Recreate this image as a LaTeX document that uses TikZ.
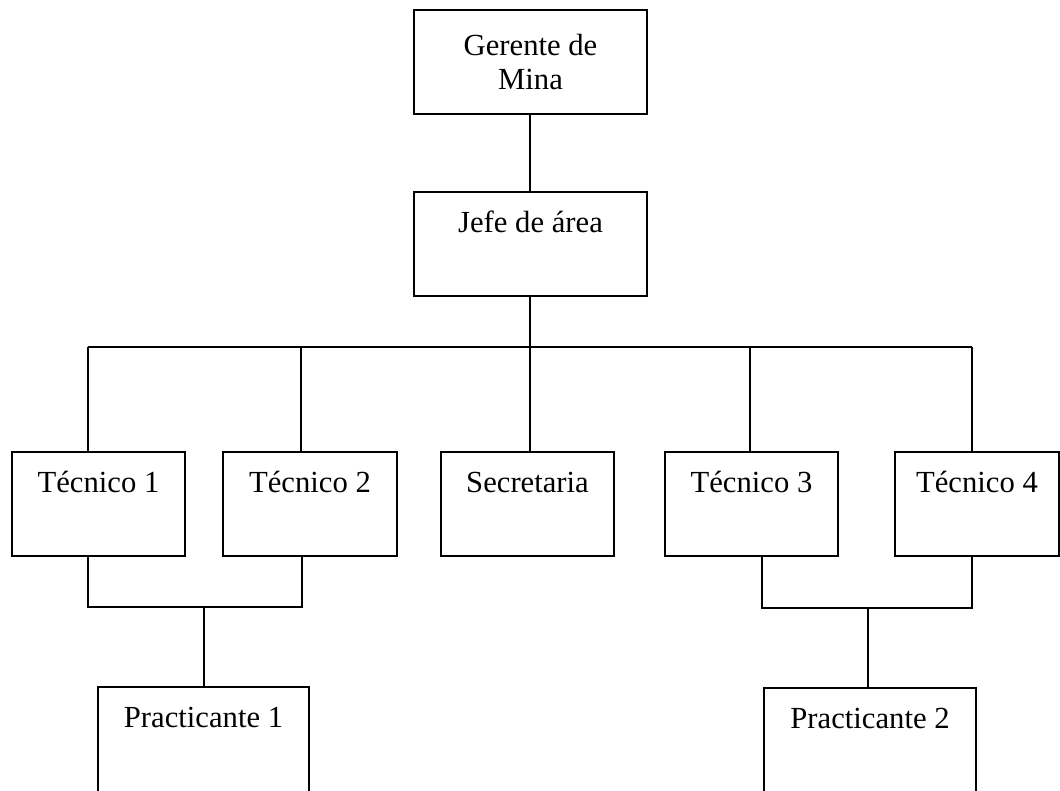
\documentclass[tikz,border=0pt]{standalone}
\usepackage{fontspec}
\setmainfont{Liberation Serif}
\begin{document}
\begin{tikzpicture}[x=0.75pt,y=-0.75pt,
  line width=1.3pt,
  orgbox/.style={draw=black, line width=1.3pt, rectangle, inner xsep=0pt, inner ysep=0pt,
     font=\fontsize{23}{26}\selectfont, text height=30pt, text depth=48pt},
  topbox/.style={draw=black, line width=1.3pt, rectangle, inner sep=0pt, align=center,
     font=\fontsize{23}{26}\selectfont, minimum height=78pt},
  conn/.style={draw=black, line width=1.3pt}]
\useasboundingbox (0,0) rectangle (1060,790);
\clip (0,0) rectangle (1060,790);
\fill[white] (0,0) rectangle (1060,790);

\node[topbox, minimum width=174.75pt] (g) at (530.5,62) {Gerente de\\Mina};
\node[orgbox, minimum width=174.75pt] (j) at (530.5,244) {Jefe de área};
\node[orgbox, minimum width=129.75pt] (t1) at (98.5,504) {Técnico 1};
\node[orgbox, minimum width=130.5pt] (t2) at (310,504) {Técnico 2};
\node[orgbox, minimum width=129.75pt] (s) at (527.5,504) {Secretaria};
\node[orgbox, minimum width=129.75pt] (t3) at (751.5,504) {Técnico 3};
\node[orgbox, minimum width=123pt] (t4) at (977,504) {Técnico 4};
\node[orgbox, minimum width=158.25pt, text depth=55pt] (p1) at (203.5,744) {Practicante 1};
\node[orgbox, minimum width=159pt, text depth=55pt] (p2) at (870,745) {Practicante 2};

\coordinate (bus) at (530,347);
\coordinate (b1) at (88,347);
\coordinate (b2) at (301,347);
\coordinate (b4) at (750,347);
\coordinate (b5) at (972,347);
\coordinate (l1) at (88,607);
\coordinate (l2) at (302,607);
\coordinate (lm) at (204,607);
\coordinate (r1) at (762,608);
\coordinate (r2) at (972,608);
\coordinate (rm) at (868,608);

\draw[conn] (g.south -| bus) -- (j.north -| bus);
\draw[conn] (j.south -| bus) -- (bus);
\draw[conn] (b1) -- (b5);
\draw[conn] (b1) -- (b1 |- t1.north);
\draw[conn] (b2) -- (b2 |- t2.north);
\draw[conn] (bus) -- (bus |- s.north);
\draw[conn] (b4) -- (b4 |- t3.north);
\draw[conn] (b5) -- (b5 |- t4.north);

\draw[conn] (l1 |- t1.south) -- (l1) -- (l2) -- (l2 |- t2.south);
\draw[conn] (lm) -- (lm |- p1.north);
\draw[conn] (r1 |- t3.south) -- (r1) -- (r2) -- (r2 |- t4.south);
\draw[conn] (rm) -- (rm |- p2.north);
\end{tikzpicture}
\end{document}
